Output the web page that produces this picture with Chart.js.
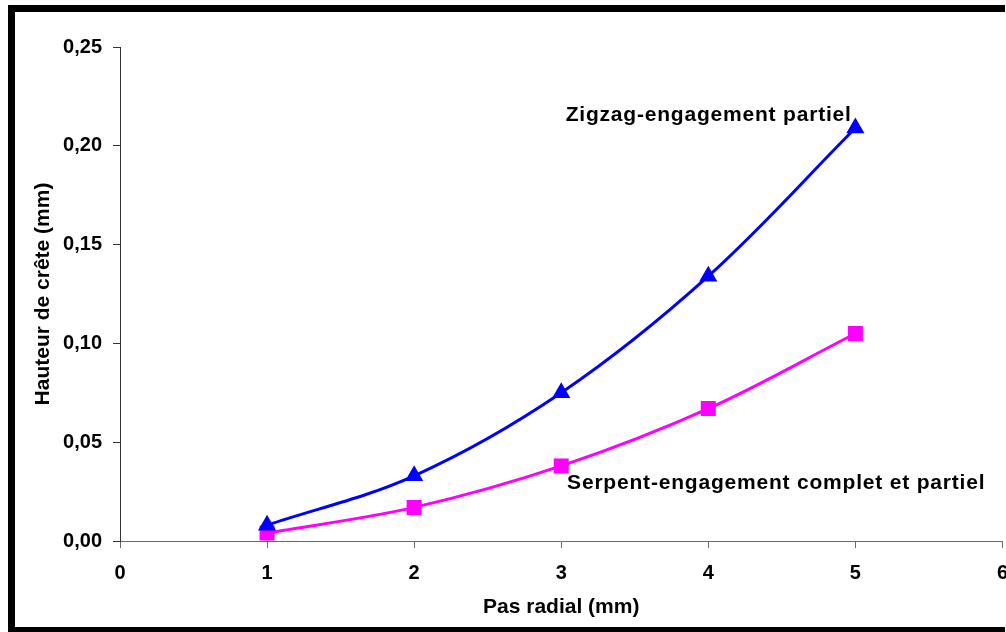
<!DOCTYPE html>
<html>
<head>
<meta charset="utf-8">
<script src="https://cdn.jsdelivr.net/npm/chart.js@4/dist/chart.umd.min.js"></script>
<style>
  html, body { margin: 0; padding: 0; background: #fff; overflow: hidden; }
  #wrap { position: relative; width: 1021px; height: 632px; }
  #chart { position: absolute; left: 0; top: 0; }
  #frame {
    position: absolute; left: 8px; top: 5px; width: 990px; height: 615px;
    border-left: 7px solid #000; border-top: 7px solid #000; border-bottom: 7px solid #000;
    pointer-events: none;
  }
</style>
</head>
<body>
<div id="wrap">
  <canvas id="chart" width="1021" height="632" style="width:1021px;height:632px"></canvas>
  <div id="frame"></div>
</div>
<script>
// Hauteur de crête en fonction du pas radial
const pasRadial = [1, 2, 3, 4, 5];
const zigzag = [0.008, 0.033, 0.075, 0.134, 0.209];
const serpent = [0.004, 0.017, 0.038, 0.067, 0.105];

const seriesNames = ['Zigzag-engagement partiel', 'Serpent-engagement complet et partiel'];
// where each series name sits, in data units (x = left edge, y = middle)
const nameAnchorX = [3.03, 3.04];
const nameAnchorY = [0.2156, 0.0294];

const FONT = '"Liberation Sans", Arial, sans-serif';

const seriesLabels = {
    id: 'seriesLabels',
    afterDatasetsDraw(chart) {
        const { ctx, scales } = chart;
        ctx.save();
        ctx.font = 'bold 21px ' + FONT;
        ctx.letterSpacing = '0.8px';
        ctx.fillStyle = '#000';
        ctx.textBaseline = 'middle';
        ctx.textAlign = 'left';
        seriesNames.forEach((name, i) => {
            ctx.fillText(name, scales.x.getPixelForValue(nameAnchorX[i]), scales.y.getPixelForValue(nameAnchorY[i]));
        });
        ctx.restore();
    }
};

new Chart(document.getElementById('chart').getContext('2d'), {
    type: 'line',
    data: {
        datasets: [
            {
                label: seriesNames[0],
                data: pasRadial.map((x, i) => ({ x, y: zigzag[i] })),
                borderColor: '#0000FF',
                backgroundColor: '#0000FF',
                borderWidth: 3,
                pointStyle: 'triangle',
                pointRadius: 7.5,
                tension: 0.35
            },
            {
                label: seriesNames[1],
                data: pasRadial.map((x, i) => ({ x, y: serpent[i] })),
                borderColor: '#FF00FF',
                backgroundColor: '#FF00FF',
                borderWidth: 3,
                pointStyle: 'rect',
                pointRadius: 8.5,
                tension: 0.35
            }
        ]
    },
    options: {
        responsive: false,
        animation: false,
        layout: {
            padding: { top: 47, right: 0, bottom: 0, left: 0 }
        },
        plugins: {
            legend: { display: false },
            tooltip: { enabled: false }
        },
        scales: {
            x: {
                type: 'linear',
                min: 0,
                max: 6,
                afterFit: scale => { scale.height = 91; },
                border: { color: '#6a6a6a', width: 1 },
                grid: { drawOnChartArea: false, drawTicks: true, tickLength: 7, color: '#6a6a6a' },
                ticks: {
                    stepSize: 1,
                    padding: 13,
                    color: '#000',
                    font: { family: FONT, size: 20, weight: 'bold' }
                },
                title: {
                    display: true,
                    text: 'Pas radial (mm)',
                    color: '#000',
                    padding: { top: 0, bottom: 12 },
                    font: { family: FONT, size: 21, weight: 'bold' }
                }
            },
            y: {
                min: 0,
                max: 0.25,
                afterFit: scale => { scale.width = 120; },
                border: { color: '#333', width: 1 },
                grid: { drawOnChartArea: false, drawTicks: true, tickLength: 7, color: '#333' },
                ticks: {
                    stepSize: 0.05,
                    padding: 11,
                    color: '#000',
                    font: { family: FONT, size: 20, weight: 'bold' },
                    callback: v => v.toFixed(2).replace('.', ',')
                },
                title: {
                    display: true,
                    text: 'Hauteur de crête (mm)',
                    color: '#000',
                    padding: { top: 31, bottom: 0 },
                    font: { family: FONT, size: 21, weight: 'bold' }
                }
            }
        }
    },
    plugins: [seriesLabels]
});
</script>
</body>
</html>
